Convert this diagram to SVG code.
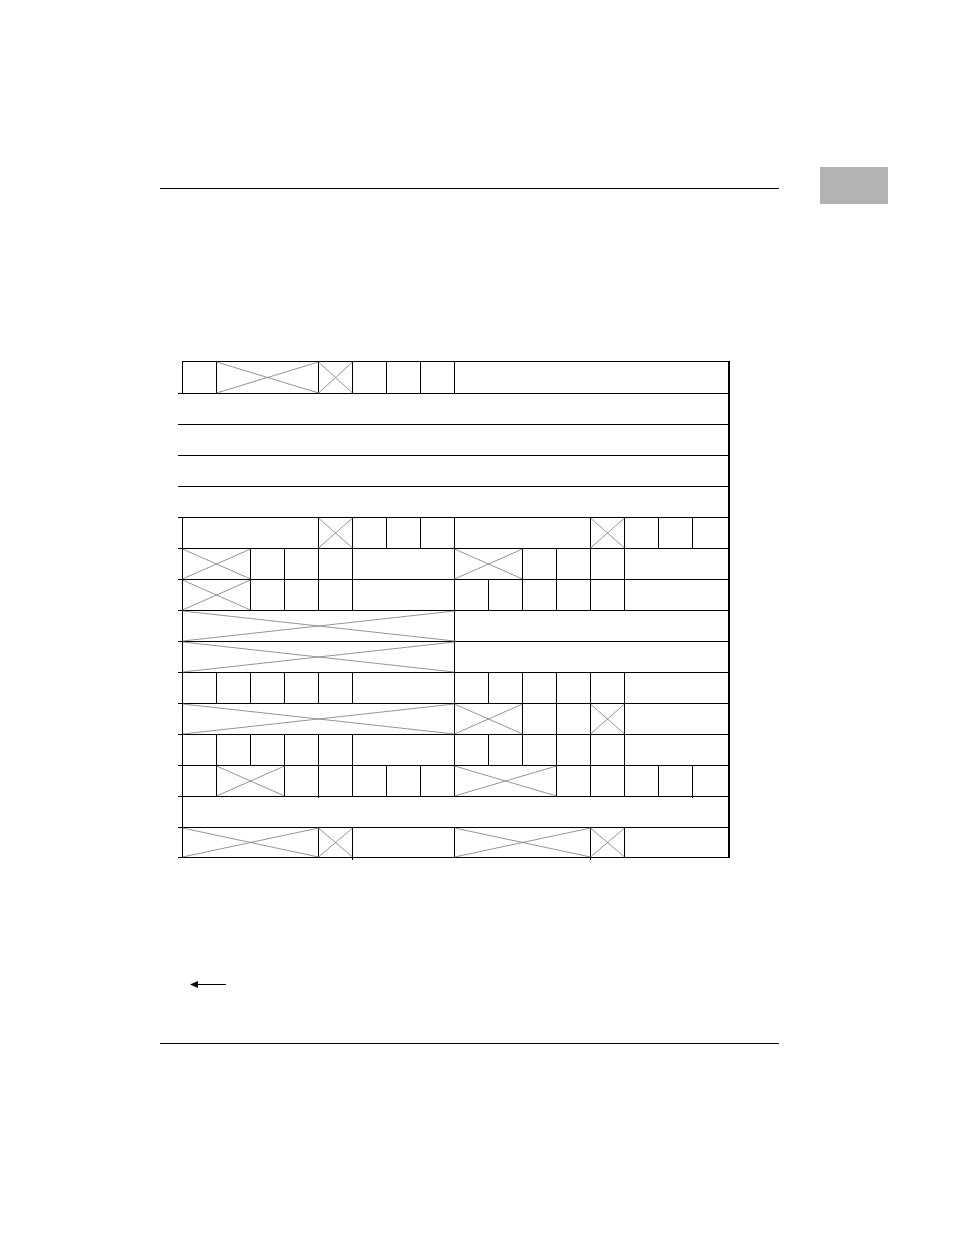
<svg xmlns="http://www.w3.org/2000/svg" width="954" height="1235" viewBox="0 0 954 1235">
<style>
.l{stroke:#000;stroke-width:1;fill:none}
.x{stroke:#7a7a7a;stroke-width:0.8;fill:none}
</style>
<rect width="954" height="1235" fill="#fff"/>
<g id="page">
<line class="l" x1="160" y1="188.5" x2="779" y2="188.5"/>
<line class="l" x1="160" y1="1043.5" x2="779" y2="1043.5"/>
<rect x="820" y="167" width="68" height="37" fill="#b3b3b3"/>
</g>
<g id="arrow">
<line class="l" x1="196" y1="984.5" x2="226" y2="984.5"/>
<polygon points="190,984.5 198,981 198,988" fill="#000"/>
</g>
<g id="table">
<g id="hlines">
<line class="l" x1="182" y1="361.5" x2="729" y2="361.5"/>
<line class="l" x1="178" y1="393.5" x2="729" y2="393.5"/>
<line class="l" x1="178" y1="424.5" x2="729" y2="424.5"/>
<line class="l" x1="178" y1="455.5" x2="729" y2="455.5"/>
<line class="l" x1="178" y1="486.5" x2="729" y2="486.5"/>
<line class="l" x1="178" y1="517.5" x2="729" y2="517.5"/>
<line class="l" x1="178" y1="548.5" x2="729" y2="548.5"/>
<line class="l" x1="178" y1="579.5" x2="729" y2="579.5"/>
<line class="l" x1="178" y1="610.5" x2="729" y2="610.5"/>
<line class="l" x1="178" y1="641.5" x2="729" y2="641.5"/>
<line class="l" x1="178" y1="672.5" x2="729" y2="672.5"/>
<line class="l" x1="178" y1="703.5" x2="729" y2="703.5"/>
<line class="l" x1="178" y1="734.5" x2="729" y2="734.5"/>
<line class="l" x1="178" y1="765.5" x2="729" y2="765.5"/>
<line class="l" x1="178" y1="796.5" x2="729" y2="796.5"/>
<line class="l" x1="178" y1="827.5" x2="729" y2="827.5"/>
<line class="l" x1="178" y1="857.5" x2="729" y2="857.5"/>
<line x1="729" y1="361" x2="729" y2="858" stroke="#000" stroke-width="2"/>
</g>
<g id="row1">
<path class="l" d="M182.5 361V394M216.5 361V394M318.5 361V394M352.5 361V394M386.5 361V394M420.5 361V394M454.5 361V394"/>
<path class="x" d="M216.5 362L318.5 393M216.5 393L318.5 362M318.5 362L352.5 393M318.5 393L352.5 362"/>
</g>
<g id="row6">
<path class="l" d="M182.5 517V549M318.5 517V549M352.5 517V549M386.5 517V549M420.5 517V549M454.5 517V549M590.5 517V549M624.5 517V549M658.5 517V549M692.5 517V549"/>
<path class="x" d="M318.5 518L352.5 548M318.5 548L352.5 518M590.5 518L624.5 548M590.5 548L624.5 518"/>
</g>
<g id="row7">
<path class="l" d="M182.5 548V580M250.5 548V580M284.5 548V580M318.5 548V580M352.5 548V580M454.5 548V580M522.5 548V580M556.5 548V580M590.5 548V580M624.5 548V580"/>
<path class="x" d="M182.5 549L250.5 579M182.5 579L250.5 549M454.5 549L522.5 579M454.5 579L522.5 549"/>
</g>
<g id="row8">
<path class="l" d="M182.5 579V611M250.5 579V611M284.5 579V611M318.5 579V611M352.5 579V611M454.5 579V611M488.5 579V611M522.5 579V611M556.5 579V611M590.5 579V611M624.5 579V611"/>
<path class="x" d="M182.5 580L250.5 610M182.5 610L250.5 580"/>
</g>
<g id="row9">
<path class="l" d="M182.5 610V642M454.5 610V642"/>
<path class="x" d="M182.5 611L454.5 641M182.5 641L454.5 611"/>
</g>
<g id="row10">
<path class="l" d="M182.5 641V673M454.5 641V673"/>
<path class="x" d="M182.5 642L454.5 672M182.5 672L454.5 642"/>
</g>
<g id="row11">
<path class="l" d="M182.5 672V704M216.5 672V704M250.5 672V704M284.5 672V704M318.5 672V704M352.5 672V704M454.5 672V704M488.5 672V704M522.5 672V704M556.5 672V704M590.5 672V704M624.5 672V704"/>
</g>
<g id="row12">
<path class="l" d="M182.5 703V735M454.5 703V735M522.5 703V735M556.5 703V735M590.5 703V735M624.5 703V735"/>
<path class="x" d="M182.5 704L454.5 734M182.5 734L454.5 704M454.5 704L522.5 734M454.5 734L522.5 704M590.5 704L624.5 734M590.5 734L624.5 704"/>
</g>
<g id="row13">
<path class="l" d="M182.5 734V766M216.5 734V766M250.5 734V766M284.5 734V766M318.5 734V766M352.5 734V766M454.5 734V766M488.5 734V766M522.5 734V766M556.5 734V766M590.5 734V766M624.5 734V766"/>
</g>
<g id="row14">
<path class="l" d="M182.5 765V797M216.5 765V797M284.5 765V797M318.5 765V798M352.5 765V797M386.5 765V797M420.5 765V797M454.5 765V797M556.5 765V797M590.5 765V797M624.5 765V797M658.5 765V797M692.5 765V798"/>
<path class="x" d="M216.5 766L284.5 796M216.5 796L284.5 766M454.5 766L556.5 796M454.5 796L556.5 766"/>
</g>
<g id="row15">
<path class="l" d="M182.5 796V828"/>
</g>
<g id="row16">
<path class="l" d="M182.5 827V858M318.5 827V858M352.5 827V860M454.5 827V858M590.5 827V860M624.5 827V858"/>
<path class="x" d="M182.5 828L318.5 857M182.5 857L318.5 828M318.5 828L352.5 857M318.5 857L352.5 828M454.5 828L590.5 857M454.5 857L590.5 828M590.5 828L624.5 857M590.5 857L624.5 828"/>
</g>
</g>
</svg>
